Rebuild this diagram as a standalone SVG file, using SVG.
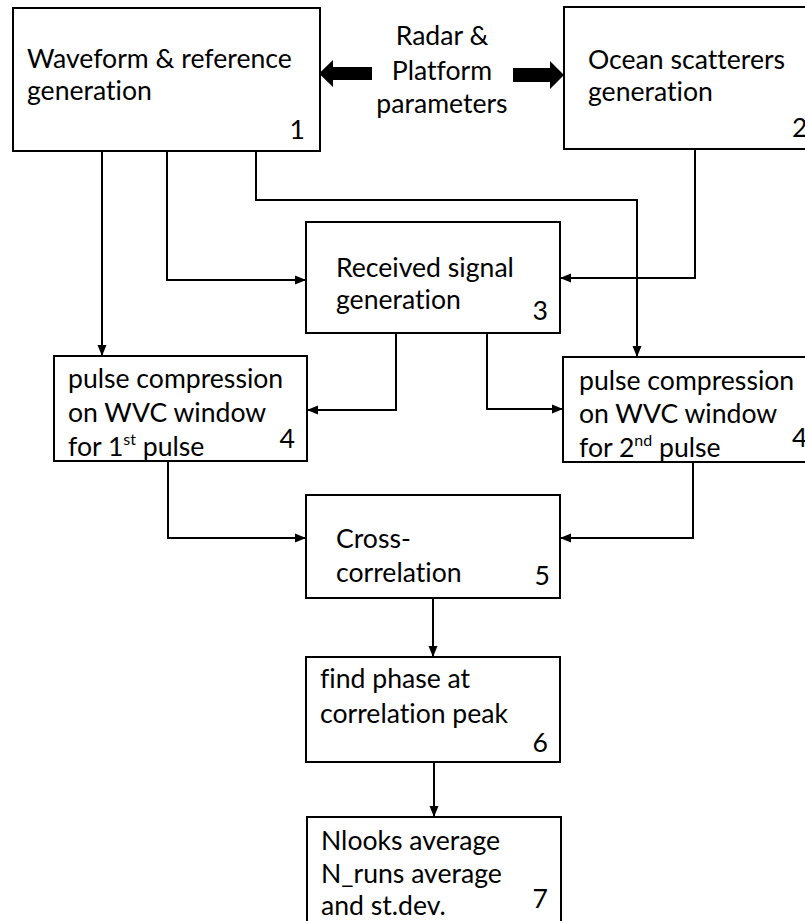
<svg xmlns="http://www.w3.org/2000/svg" width="805" height="921" viewBox="0 0 805 921">
<defs>
<style>
.box{fill:#fff;stroke:#000;stroke-width:2}
.t{font-family:Lato,"Liberation Sans",sans-serif;font-size:26.6px;fill:#000;font-variant-ligatures:none}
.n{font-family:Lato,"Liberation Sans",sans-serif;font-size:26.6px;fill:#000;text-anchor:end}
.c{fill:none;stroke:#000;stroke-width:2;marker-end:url(#ah)}
.sup{font-size:16px}
</style>
<marker id="ah" markerUnits="userSpaceOnUse" markerWidth="12" markerHeight="12" viewBox="0 0 12 12" refX="11" refY="6" orient="auto">
<path d="M0,1.5 L11,6 L0,10.5 Z" fill="#000"/>
</marker>
</defs>
<rect width="805" height="921" fill="#fff"/>
<g id="connectors">
<path class="c" d="M102,151 V356"/>
<path class="c" d="M167,151 V280 H306"/>
<path class="c" d="M256,151 V200 H637 V357"/>
<path class="c" d="M695,149 V278 H560"/>
<path class="c" d="M396,333 V410 H307"/>
<path class="c" d="M487,333 V409 H563"/>
<path class="c" d="M168,461 V538 H306"/>
<path class="c" d="M693,462 V538 H560"/>
<path class="c" d="M433,598 V657"/>
<path class="c" d="M434,762 V817"/>
</g>
<g id="params">
<polygon points="319,73.5 333,60 333,67 372,67 372,80 333,80 333,87" fill="#000"/>
<polygon points="564,75 550,61 550,68 513,68 513,82 550,82 550,89" fill="#000"/>
<text class="t" x="442" y="45" text-anchor="middle">Radar &amp;</text>
<text class="t" x="442" y="80" text-anchor="middle">Platform</text>
<text class="t" x="442" y="113" text-anchor="middle">parameters</text>
</g>
<g id="node1">
<rect class="box" x="13" y="8" width="307" height="143"/>
<text class="t" x="27" y="68">Waveform &amp; reference</text>
<text class="t" x="27" y="100">generation</text>
<text class="n" x="305" y="139">1</text>
</g>
<g id="node2">
<rect class="box" x="564" y="7" width="260" height="142"/>
<text class="t" x="588" y="69">Ocean scatterers</text>
<text class="t" x="588" y="101">generation</text>
<text class="t" x="792" y="137">2</text>
</g>
<g id="node3">
<rect class="box" x="306" y="222" width="254" height="111"/>
<text class="t" x="336" y="277">Received signal</text>
<text class="t" x="336" y="309">generation</text>
<text class="n" x="548" y="320">3</text>
</g>
<g id="node4a">
<rect class="box" x="54" y="356" width="253" height="105"/>
<text class="t" x="68" y="388">pulse compression</text>
<text class="t" x="68" y="422">on WVC window</text>
<text class="t" x="68" y="456">for 1<tspan class="sup" dy="-11">st</tspan><tspan dy="11"> pulse</tspan></text>
<text class="n" x="295" y="448">4</text>
</g>
<g id="node4b">
<rect class="box" x="563" y="357" width="260" height="105"/>
<text class="t" x="579" y="390">pulse compression</text>
<text class="t" x="579" y="423">on WVC window</text>
<text class="t" x="579" y="457">for 2<tspan class="sup" dy="-11">nd</tspan><tspan dy="11"> pulse</tspan></text>
<text class="t" x="792" y="447">4</text>
</g>
<g id="node5">
<rect class="box" x="306" y="495" width="254" height="103"/>
<text class="t" x="336" y="548">Cross-</text>
<text class="t" x="336" y="582">correlation</text>
<text class="n" x="550" y="585">5</text>
</g>
<g id="node6">
<rect class="box" x="306" y="657" width="254" height="105"/>
<text class="t" x="320" y="688">find phase at</text>
<text class="t" x="320" y="723">correlation peak</text>
<text class="n" x="548" y="752">6</text>
</g>
<g id="node7">
<rect class="box" x="307" y="817" width="254" height="120"/>
<text class="t" x="321" y="850">Nlooks average</text>
<text class="t" x="321" y="883">N_runs average</text>
<text class="t" x="321" y="915">and st.dev.</text>
<text class="n" x="548" y="908">7</text>
</g>
</svg>
